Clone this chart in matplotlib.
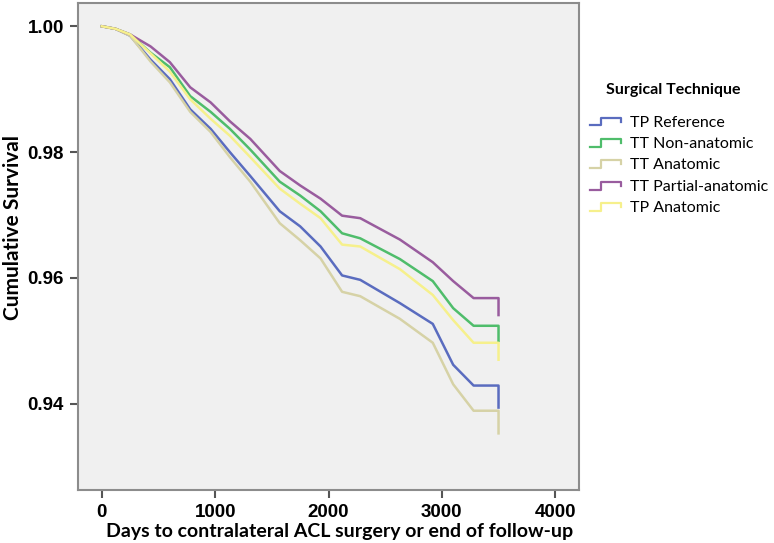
import matplotlib
matplotlib.use('Agg')
import matplotlib.pyplot as plt
from matplotlib.lines import Line2D
from matplotlib.legend_handler import HandlerBase

# Days (x) and cumulative survival
days = [0, 120, 250, 430, 600, 780, 960, 1130, 1310, 1570, 1750, 1930, 2120, 2280,
        2630, 2920, 3100, 3280, 3500, 3500]

tt_partial = [1.0, 0.9996, 0.9987, 0.9968, 0.9943, 0.9903, 0.9879, 0.9849, 0.9821, 0.9770,
              0.9747, 0.9726, 0.9699, 0.9695, 0.9661, 0.9625, 0.9595, 0.9568, 0.9568, 0.9541]
tt_non_anatomic = [1.0, 0.9996, 0.9987, 0.9958, 0.9935, 0.9889, 0.9864, 0.9837, 0.9804, 0.9753,
                   0.9731, 0.9706, 0.9671, 0.9663, 0.9630, 0.9595, 0.9552, 0.9524, 0.9524, 0.9500]
tp_anatomic = [1.0, 0.9996, 0.9987, 0.9957, 0.9928, 0.9884, 0.9853, 0.9826, 0.9792, 0.9742,
               0.9718, 0.9695, 0.9653, 0.9650, 0.9614, 0.9573, 0.9533, 0.9497, 0.9497, 0.9470]
tp_reference = [1.0, 0.9996, 0.9985, 0.9947, 0.9916, 0.9868, 0.9837, 0.9800, 0.9762, 0.9706,
                0.9682, 0.9650, 0.9604, 0.9597, 0.9560, 0.9527, 0.9462, 0.9429, 0.9429, 0.9394]
tt_anatomic = [1.0, 0.9996, 0.9985, 0.9944, 0.9911, 0.9864, 0.9832, 0.9792, 0.9753, 0.9687,
               0.9660, 0.9631, 0.9578, 0.9571, 0.9535, 0.9497, 0.9431, 0.9389, 0.9389, 0.9353]

labels = ['TP Reference', 'TT Non-anatomic', 'TT Anatomic', 'TT Partial-anatomic', 'TP Anatomic']
series = [tp_reference, tt_non_anatomic, tt_anatomic, tt_partial, tp_anatomic]
colors = ['#5a6cbf', '#4fbd6b', '#d6d2a6', '#995c9e', '#f6f08c']


# Legend handle drawn as a small step, like the SPSS legend
class StepHandler(HandlerBase):
    def create_artists(self, legend, orig_handle, xdescent, ydescent, width, height, fontsize, trans):
        x0 = -xdescent
        y0 = -ydescent + height * 0.1
        y1 = -ydescent + height * 0.8
        xs = [x0, x0 + width * 0.35, x0 + width * 0.35, x0 + width, x0 + width]
        ys = [y0, y0, y1, y1, y0 + height * 0.35]
        line = Line2D(xs, ys, color=orig_handle.get_color(), lw=1.6, transform=trans)
        return [line]


W, H = 774, 543
fig = plt.figure(figsize=(W / 100, H / 100), dpi=100)
ax = fig.add_axes([78 / W, 1 - 490 / H, 501 / W, 487 / H])
ax.set_facecolor('#f0f0f0')

handles = []
for vals, lab, col in zip(series, labels, colors):
    h, = ax.plot(days, vals, color=col, lw=1.8, label=lab)
    handles.append(h)

ax.set_xlim(-210, 4210)
ax.set_ylim(0.9263, 1.0037)
ax.set_xticks([0, 1000, 2000, 3000, 4000])
ax.set_yticks([0.94, 0.96, 0.98, 1.00])
ax.set_yticklabels(['0.94', '0.96', '0.98', '1.00'])

for s in ax.spines.values():
    s.set_color('#8c8c8c')
    s.set_linewidth(1.5)

ax.tick_params(axis='both', direction='out', length=6, width=1.5, color='#555555', pad=4)
for t in ax.get_xticklabels() + ax.get_yticklabels():
    t.set_fontfamily('Liberation Sans')
    t.set_fontweight('bold')
    t.set_fontsize(13.5)

fig.text(13 / W, 1 - 228 / H, 'Cumulative Survival', rotation=90, ha='center', va='center',
         family='Lato', fontweight='bold', fontsize=15)
fig.text(340 / W, 1 - 531 / H, 'Days to contralateral ACL surgery or end of follow-up',
         ha='center', va='center', family='Lato', fontweight='bold', fontsize=14)

fig.text(673 / W, 1 - 90 / H, 'Surgical Technique', ha='center', va='center',
         family='Lato', fontweight='bold', fontsize=11.5)
leg = fig.legend(handles, labels, handler_map={Line2D: StepHandler()},
                 loc='upper left', bbox_to_anchor=(576 / W, 1 - 101 / H), frameon=False,
                 prop={'family': 'Lato', 'size': 11.5}, handlelength=1.9, handletextpad=0.55,
                 labelspacing=0.45)

fig.savefig('out.png', dpi=100, facecolor='white')
